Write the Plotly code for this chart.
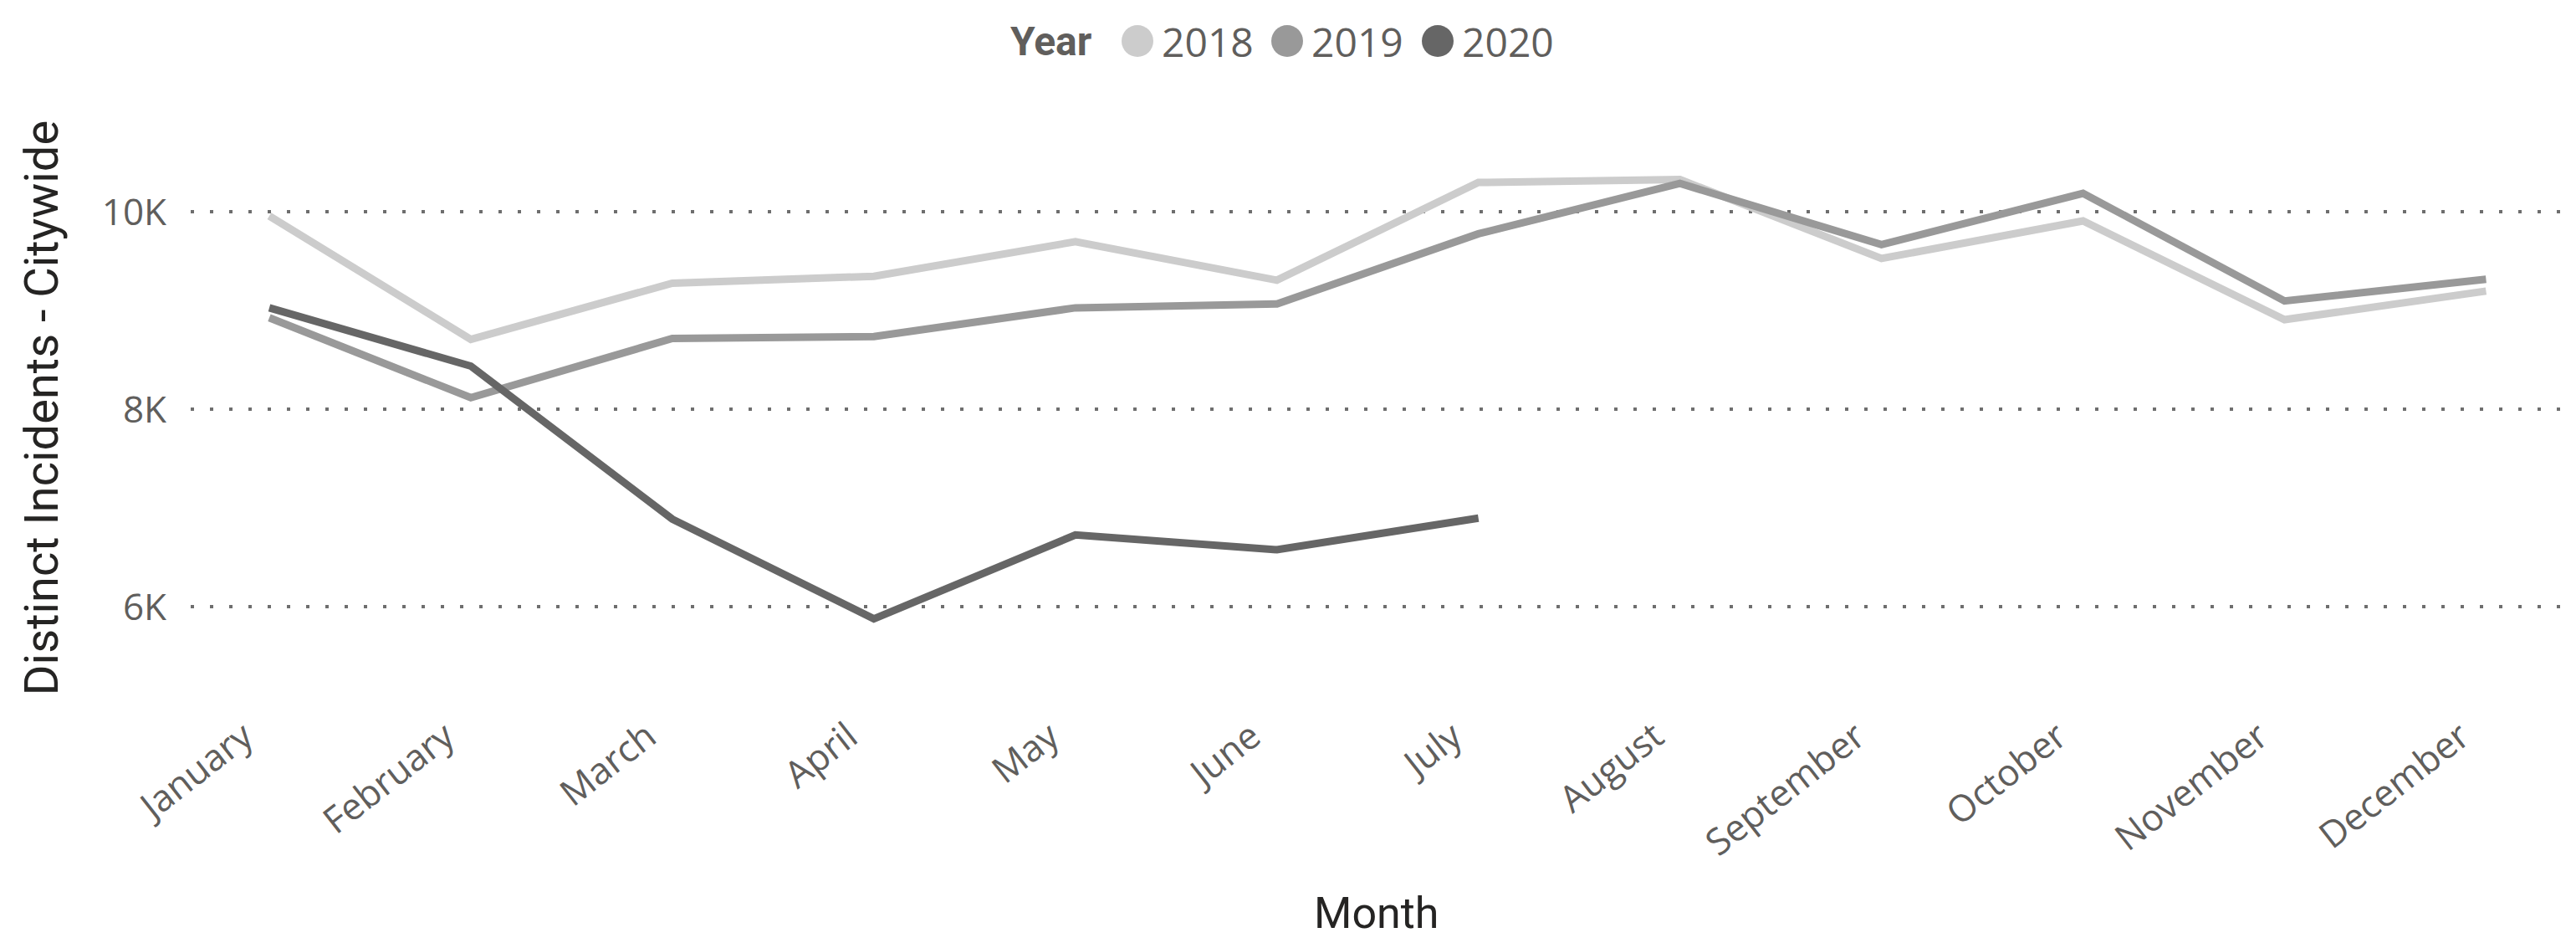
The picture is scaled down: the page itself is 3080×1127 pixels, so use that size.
import plotly.graph_objects as go

months = ["January", "February", "March", "April", "May", "June", "July",
          "August", "September", "October", "November", "December"]
years = ["2018", "2019", "2020"]
colors = ["#CCCCCC", "#999999", "#666666"]

values_2018 = [9960, 8710, 9280, 9350, 9700, 9310, 10300, 10330, 9530, 9910, 8910, 9200]
values_2019 = [8930, 8120, 8720, 8740, 9030, 9070, 9780, 10290, 9670, 10190, 9100, 9320]
values_2020 = [9030, 8440, 6890, 5880, 6730, 6580, 6900]

y_tickvals = [6000, 8000, 10000]
y_ticktext = ["6K", "8K", "10K"]

series = [values_2018, values_2019, values_2020]

fig = go.Figure()
for name, vals, col in zip(years, series, colors):
    fig.add_trace(go.Scatter(
        x=months[:len(vals)], y=vals, mode="lines", name=name,
        line=dict(color=col, width=9), showlegend=False,
    ))

tick_font = dict(family="Open Sans, Noto Sans, sans-serif", size=44, color="#605E5C")
title_font = dict(family="Roboto, Liberation Sans, sans-serif", size=56, color="#252423")

fig.update_layout(
    width=3080, height=1127,
    margin=dict(l=228, r=16, t=120, b=272),
    paper_bgcolor="white", plot_bgcolor="white",
)
fig.update_xaxes(
    type="category", categoryorder="array", categoryarray=months,
    range=[-0.39, 11.38], showgrid=False, zeroline=False, showline=False,
    automargin=False,
    tickangle=-38, tickfont=tick_font, ticklabelshift=-30, ticklabelstandoff=-10,
)
fig.update_yaxes(
    range=[4902, 11131], tickvals=y_tickvals, ticktext=y_ticktext,
    tickfont=tick_font, ticklabelstandoff=28, automargin=False,
    showgrid=True, gridcolor="#6E6E6E", gridwidth=4, griddash="4px,19px",
    zeroline=False, showline=False,
    title=dict(text="Distinct Incidents - Citywide", font=title_font, standoff=34),
)

# x-axis title
fig.add_annotation(xref="paper", yref="paper", x=(1645 - 228) / 2836.0,
                   y=(855 - 1091) / 735.0, text="Month", showarrow=False,
                   xanchor="center", yanchor="middle", borderpad=0,
                   font=dict(family="Roboto, Liberation Sans, sans-serif", size=52, color="#252423"))

# Legend (top, centered) built from shapes and annotations
legend_font = dict(family="Open Sans, Noto Sans, sans-serif", size=48, color="#605E5C")
ly = 1 + (120 - 49) / 735.0
fig.add_annotation(xref="paper", yref="paper", x=(1308 - 228) / 2836.0, y=ly,
                   text="<b>Year</b>", showarrow=False, xanchor="right", yanchor="middle",
                   font=dict(family="Roboto, Liberation Sans, sans-serif", size=48, color="#605E5C"))
circle_px = [1360, 1539, 1719]
for name, col, cx in zip(years, colors, circle_px):
    xp = (cx - 228) / 2836.0
    fig.add_shape(type="circle", xref="paper", yref="paper",
                  xsizemode="pixel", ysizemode="pixel",
                  xanchor=xp, yanchor=ly, x0=-19, x1=19, y0=-19, y1=19,
                  fillcolor=col, line=dict(width=0))
    fig.add_annotation(xref="paper", yref="paper", x=(cx + 27 - 228) / 2836.0, y=ly,
                       text=name, showarrow=False, xanchor="left", yanchor="middle",
                       font=legend_font)

fig.write_html("out.html", config={"displayModeBar": False},
               post_script="document.body.style.margin='0';document.body.style.overflow='hidden';")
